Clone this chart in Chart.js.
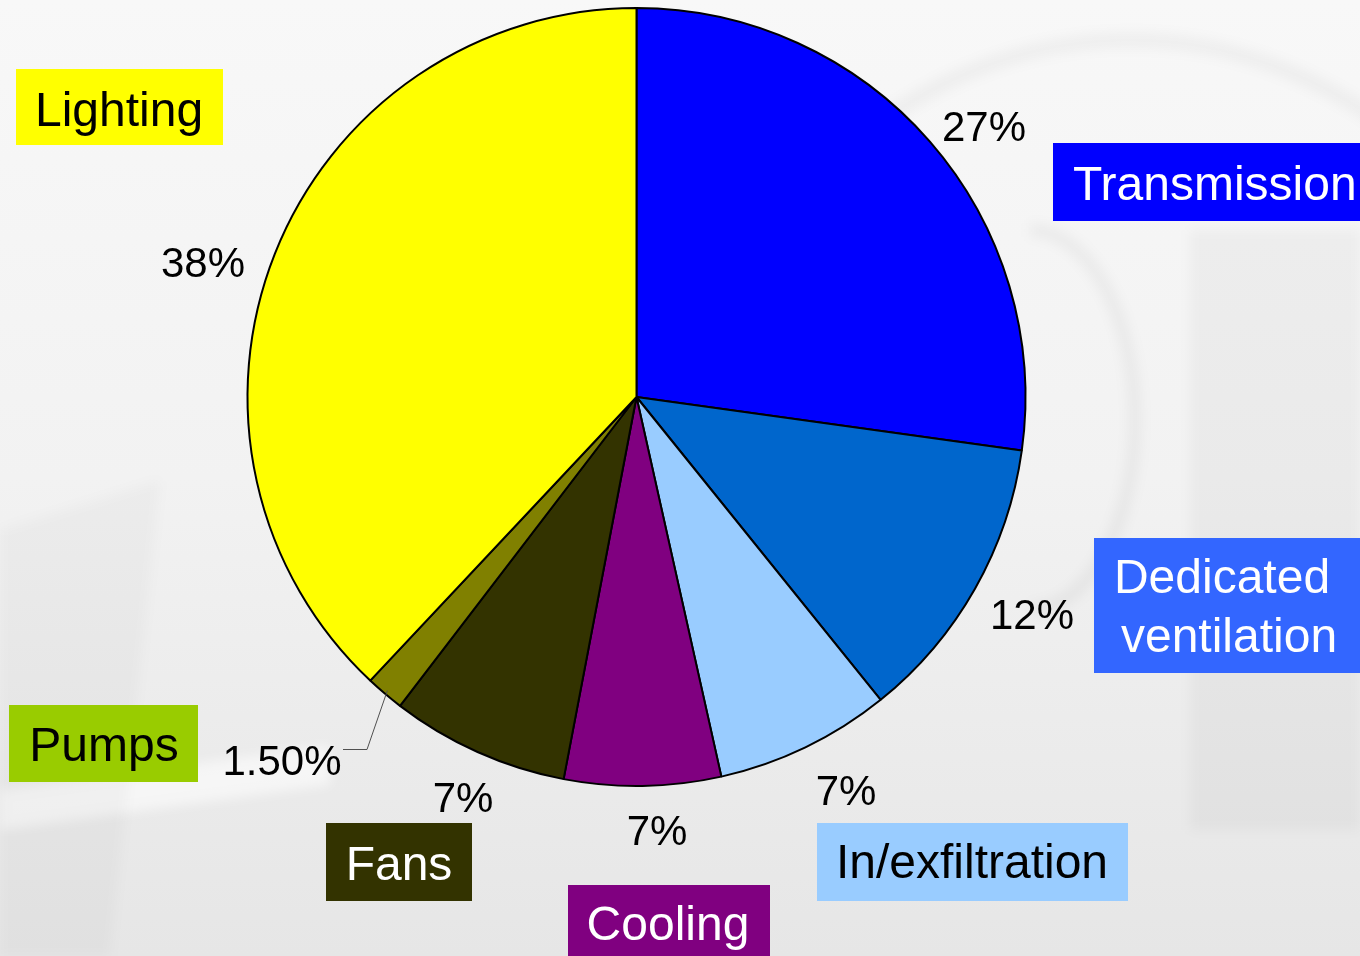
<!DOCTYPE html>
<html>
<head>
<meta charset="utf-8">
<script src="https://cdn.jsdelivr.net/npm/chart.js@4.4.1/dist/chart.umd.min.js"></script>
<style>
html,body{margin:0;padding:0;background:#f2f2f2;}
#wrap{width:1360px;height:956px;position:relative;}
canvas{display:block;}
</style>
</head>
<body>
<div id="wrap"><canvas id="c" width="1360" height="956"></canvas></div>
<script>
// ---- data ----
const categories = ['Transmission', 'Dedicated ventilation', 'In/exfiltration', 'Cooling', 'Fans', 'Pumps', 'Lighting'];
// slice sizes as drawn in the picture (labels are the rounded published figures)
const shares = [27.2, 12.0, 7.3, 6.5, 7.4, 1.6, 38.0];
const shareLabels = ['27%', '12%', '7%', '7%', '7%', '1.50%', '38%'];
const sliceColors = ['#0000FF', '#0066CC', '#99CCFF', '#800080', '#333300', '#808000', '#FFFF00'];

// ---- label layout (annotations, not marks) ----
const boxStyle = [
  {box:[1053,143,320,78], text:['Transmission'], tx:[1073], align:'left', base:[200], bg:'#0000FF', fg:'#FFFFFF'},
  {box:[1094,538,280,135], text:['Dedicated','ventilation'], tx:[1222,1229], align:'center', base:[593,652], bg:'#3366FF', fg:'#FFFFFF'},
  {box:[817,823,311,78], text:['In/exfiltration'], tx:[972], align:'center', base:[878], bg:'#99CCFF', fg:'#000000'},
  {box:[568,885,202,80], text:['Cooling'], tx:[668], align:'center', base:[940], bg:'#800080', fg:'#FFFFFF'},
  {box:[326,823,146,78], text:['Fans'], tx:[399], align:'center', base:[880], bg:'#333300', fg:'#FFFFFF'},
  {box:[9,705,189,77], text:['Pumps'], tx:[104], align:'center', base:[761], bg:'#99CC00', fg:'#000000'},
  {box:[16,69,207,76], text:['Lighting'], tx:[119], align:'center', base:[126], bg:'#FFFF00', fg:'#000000'}
];
const pctPos = [[984,141],[1032,629],[846,805],[657,845],[463,812],[282,775],[203,277]];

const bgPlugin = {
  id: 'bg',
  beforeDraw(chart) {
    const ctx = chart.ctx;
    ctx.save();
    const g = ctx.createLinearGradient(0, 0, 0, 956);
    g.addColorStop(0, '#f8f8f8');
    g.addColorStop(0.5, '#f2f2f2');
    g.addColorStop(1, '#e6e6e6');
    ctx.fillStyle = g;
    ctx.fillRect(0, 0, 1360, 956);
    ctx.filter = 'blur(6px)';
    ctx.fillStyle = 'rgba(0,0,0,0.03)';
    ctx.fillRect(1190, 230, 170, 600);
    ctx.strokeStyle = 'rgba(0,0,0,0.04)';
    ctx.lineWidth = 14;
    ctx.beginPath();
    ctx.ellipse(1030, 420, 105, 190, 0, -Math.PI/2, Math.PI/2);
    ctx.stroke();
    ctx.lineWidth = 16;
    ctx.strokeStyle = 'rgba(0,0,0,0.035)';
    ctx.beginPath();
    ctx.ellipse(1130, 600, 480, 560, 0, -Math.PI*0.78, -Math.PI*0.05);
    ctx.stroke();
    ctx.fillStyle = 'rgba(255,255,255,0.55)';
    ctx.beginPath();
    ctx.moveTo(0, 830); ctx.lineTo(330, 785); ctx.lineTo(330, 745); ctx.lineTo(0, 790); ctx.closePath();
    ctx.fill();
    ctx.fillStyle = 'rgba(0,0,0,0.025)';
    ctx.beginPath();
    ctx.moveTo(0, 530); ctx.lineTo(160, 480); ctx.lineTo(110, 956); ctx.lineTo(0, 956); ctx.closePath();
    ctx.fill();
    ctx.restore();
  }
};

const labelPlugin = {
  id: 'labels',
  afterDatasetsDraw(chart) {
    const ctx = chart.ctx;
    const meta = chart.getDatasetMeta(0);
    ctx.save();
    const pumpsArc = meta.data[5];
    const mid = (pumpsArc.startAngle + pumpsArc.endAngle) / 2;
    const ax = pumpsArc.x + Math.cos(mid) * (pumpsArc.outerRadius - 4);
    const ay = pumpsArc.y + Math.sin(mid) * (pumpsArc.outerRadius - 4);
    ctx.strokeStyle = '#505050';
    ctx.lineWidth = 1;
    ctx.beginPath();
    ctx.moveTo(343, 749.5); ctx.lineTo(367, 749.5); ctx.lineTo(ax, ay);
    ctx.stroke();

    ctx.font = '42px "Liberation Sans", Arial, sans-serif';
    ctx.fillStyle = '#000000';
    ctx.textAlign = 'center';
    ctx.textBaseline = 'alphabetic';
    shareLabels.forEach((t, i) => {
      ctx.fillText(t, pctPos[i][0], pctPos[i][1]);
    });

    ctx.font = '48px "Liberation Sans", Arial, sans-serif';
    boxStyle.forEach((b) => {
      ctx.fillStyle = b.bg;
      ctx.fillRect(b.box[0], b.box[1], b.box[2], b.box[3]);
      ctx.fillStyle = b.fg;
      ctx.textAlign = b.align;
      b.text.forEach((line, j) => ctx.fillText(line, b.tx[j], b.base[j]));
    });
    ctx.restore();
  }
};

new Chart(document.getElementById('c'), {
  type: 'pie',
  data: {
    labels: categories,
    datasets: [{
      data: shares,
      backgroundColor: sliceColors,
      borderColor: '#000000',
      borderWidth: 2,
      borderAlign: 'center'
    }]
  },
  options: {
    responsive: false,
    animation: false,
    events: [],
    layout: { padding: { left: 246, right: 333, top: 7, bottom: 169 } },
    plugins: { legend: { display: false }, tooltip: { enabled: false } }
  },
  plugins: [bgPlugin, labelPlugin]
});
</script>
</body>
</html>
